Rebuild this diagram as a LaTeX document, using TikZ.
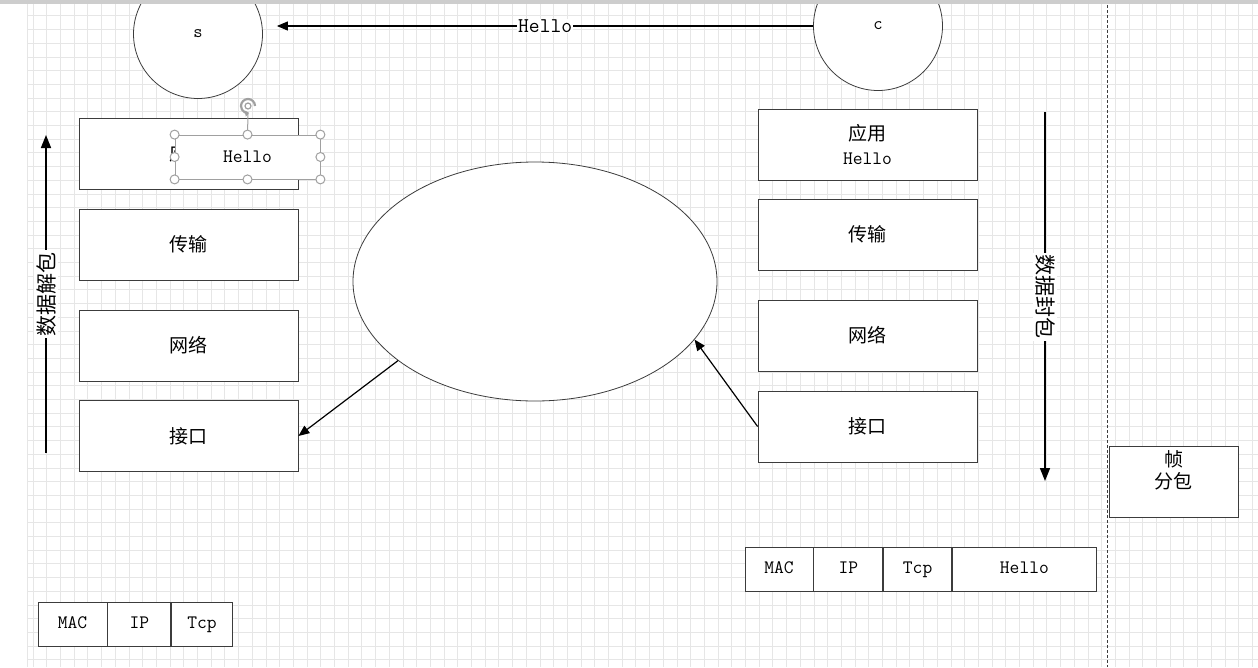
\documentclass[tikz,border=0pt]{standalone}
\usepackage{fontspec}
\newfontfamily\cjk{Noto Sans CJK SC}
\usetikzlibrary{arrows.meta,shapes.geometric,positioning}
\definecolor{edge}{RGB}{60,60,60}
\definecolor{gridgray}{RGB}{230,230,230}
\definecolor{handlegray}{RGB}{160,160,160}
\definecolor{ruler}{RGB}{205,205,205}
\newcommand{\zh}[1]{{\cjk\fontsize{19}{24}\selectfont #1}}
\tikzset{
  layer/.style={rectangle,draw=edge,fill=white,line width=0.8pt,
                minimum width=219pt,minimum height=71pt,inner sep=0pt,
                align=center,font=\ttfamily\fontsize{19}{24}\selectfont},
  host/.style={circle,draw=edge,fill=white,line width=0.8pt,
               minimum size=129pt,inner sep=0pt,font=\ttfamily\fontsize{18}{18}\selectfont},
  cell/.style={rectangle,draw=edge,fill=white,line width=0.8pt,
               minimum height=44pt,inner sep=0pt,text height=12pt,text depth=3pt,
               font=\ttfamily\fontsize{19}{19}\selectfont},
  arrow/.style={-{Triangle[length=11pt,width=9pt]},line width=1.2pt,black},
  flow/.style={-{Triangle[length=13pt,width=10pt]},line width=1.6pt,black},
}
\begin{document}
\begin{tikzpicture}[x=1pt,y=-1pt,
      handle/.style={circle,draw=handlegray,fill=white,line width=1pt,
                     minimum size=9pt,inner sep=0pt},
      textbox/.style={rectangle,draw=handlegray,fill=white,line width=0.8pt,
                      minimum width=145pt,minimum height=44pt,inner sep=0pt,
                      font=\ttfamily\fontsize{19}{19}\selectfont},
      vlabel/.style={fill=white,inner sep=2pt,font=\cjk\fontsize{21}{21}\selectfont},
    ]
    \clip (0,0) rectangle (1258,667);
    \fill[white] (0,0) rectangle (1258,667);

    % grid
    \foreach \gx in {33,46.7,...,1258}
      \draw[gridgray,line width=0.8pt] (\gx,0) -- (\gx,667);
    \foreach \gy in {2.1,15.8,...,667}
      \draw[gridgray,line width=0.8pt] (27,\gy) -- (1258,\gy);
    \draw[gridgray,line width=0.8pt] (27,0) -- (27,667);

    \node[host] (srv) at (198,34) {s};
    \node[host] (cli) at (878,26) {c};

    % server side
    \node[layer] (s-app) at (188.5,153.5) {\zh{应用}};
    \node[layer] (s-tra) at (188.5,244.5) {\zh{传输}};
    \node[layer] (s-net) at (188.5,345.5) {\zh{网络}};
    \node[layer] (s-if)  at (188.5,436)   {\zh{接口}};

    % client side
    \node[layer] (c-app) at (867.5,144.5) {\zh{应用}\\Hello};
    \node[layer] (c-tra) at (867.5,234.5) {\zh{传输}};
    \node[layer] (c-net) at (867.5,335.5) {\zh{网络}};
    \node[layer] (c-if)  at (867.5,426.5) {\zh{接口}};

    \node[ellipse,draw=edge,fill=white,line width=0.8pt,
          minimum width=364pt,minimum height=239pt] (wire) at (535,281.5) {};

    % frame
    \node[layer,minimum width=129pt] (frm) at (1173.5,481.5) {};
    \node[anchor=north,align=center,font=\cjk\fontsize{19}{22}\selectfont]
         (frm-txt) at ([yshift=-1pt]frm.north) {帧\\分包};

    % packets
    \node[cell,minimum width=68pt] (p-mac) at (779,569) {MAC};
    \node[cell,minimum width=69pt,right=0pt of p-mac] (p-ip)  {IP};
    \node[cell,minimum width=68pt,right=0pt of p-ip]  (p-tcp) {Tcp};
    \node[cell,minimum width=144pt,right=0pt of p-tcp] (p-msg) {Hello};

    \node[cell,minimum width=69pt] (q-mac) at (72.5,624) {MAC};
    \node[cell,minimum width=63pt,right=0pt of q-mac] (q-ip)  {IP};
    \node[cell,minimum width=61pt,right=0pt of q-ip]  (q-tcp) {Tcp};

    % arrows
    \draw[arrow,shorten >=14pt] (cli.west) -- (cli.west -| srv.east)
      node[pos=0.487,fill=white,inner sep=1pt,font=\ttfamily\fontsize{21}{21}\selectfont] (msg) {Hello};
    \draw[arrow] (wire.210) -- (s-if.east);
    \draw[arrow] (c-if.west) -- (wire.340);

    % pack / unpack
    \coordinate (up-bot) at (46,453);
    \coordinate (up-top) at (46,135);
    \draw[flow] (up-bot) -- (up-top) node[midway,vlabel,rotate=90] (unpack) {数据解包};
    \coordinate (dn-top) at (1045,112);
    \coordinate (dn-bot) at (1045,481);
    \draw[flow] (dn-top) -- (dn-bot) node[midway,vlabel,rotate=-90] (pack) {数据封包};

    % divider
    \coordinate (sep-top) at (1107,0);
    \coordinate (sep-bot) at (1107,667);
    \draw[edge,dash pattern=on 3pt off 2pt,line width=0.8pt] (sep-top) -- (sep-bot);

    % selected text box
    \node[textbox] (sel) at (247.5,157) {Hello};
    \coordinate (rot) at (248,106);
    \coordinate (rot-foot) at (248,114);
    \draw[handlegray,line width=1pt] (sel.north) -- (rot-foot);
    \draw[handlegray,line width=2.2pt,-{Triangle[length=4pt,width=6pt]}]
      ([xshift=7pt]rot) arc[start angle=0,end angle=280,radius=7pt];
    \draw[handlegray,line width=1.2pt] (rot) circle[radius=3pt];
    \foreach \a in {north west,north,north east,east,south east,south,south west,west}
      \node[handle] (h-\a) at (sel.\a) {};

    \fill[ruler] (0,0) rectangle (1258,4);
  \end{tikzpicture}
\end{document}
